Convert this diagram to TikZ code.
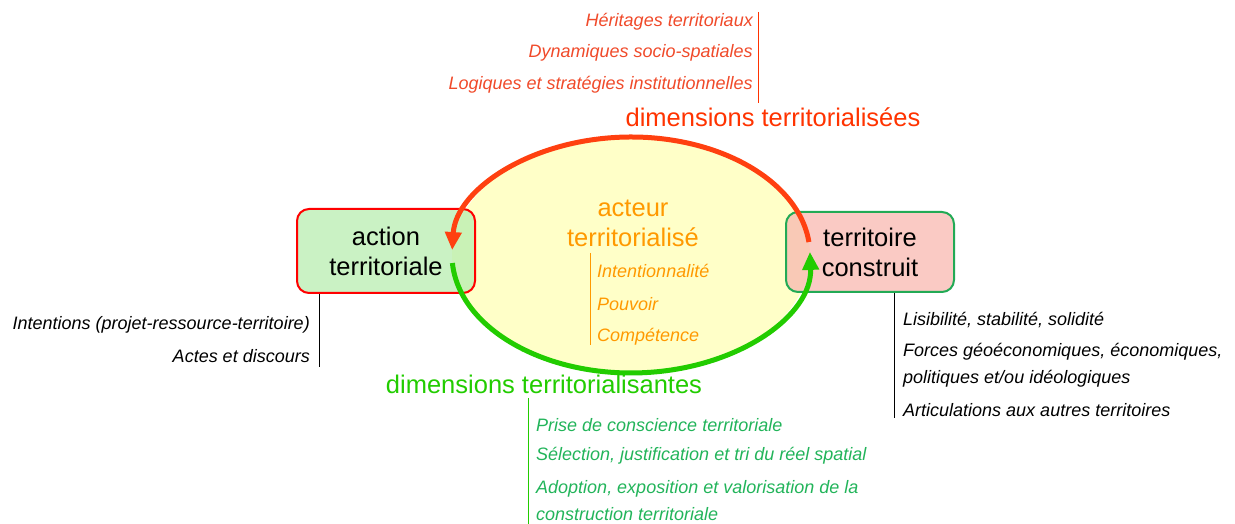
\documentclass[tikz,border=0pt]{standalone}
\usepackage{fontspec}
\setmainfont{Liberation Sans}
\usetikzlibrary{arrows.meta,shapes.geometric}
\definecolor{redT}{HTML}{FF3300}
\definecolor{redI}{HTML}{F04A2A}
\definecolor{orgT}{HTML}{FF9900}
\definecolor{grnT}{HTML}{22CC00}
\definecolor{grnI}{HTML}{22B45A}
\definecolor{grnB}{HTML}{22AA55}
\definecolor{yel}{HTML}{FFFFC8}
\definecolor{boxG}{HTML}{B8EEB0}
\definecolor{boxR}{HTML}{F8B8B0}
\definecolor{arcR}{HTML}{FF4010}
\definecolor{arcG}{HTML}{22CC00}
\begin{document}
\begin{tikzpicture}[x=1pt,y=1pt,
  big/.style={font=\fontsize{25.5}{30}\selectfont, inner sep=0pt},
  itm/.style={font=\fontsize{18}{20}\selectfont\itshape, inner sep=0pt},
  boxst/.style={rounded corners=12pt, line width=2pt, fill opacity=0.75, text opacity=1},
  arcst/.style={line width=5pt, -{Triangle[length=18pt,width=16pt]}}]
\useasboundingbox (0,0) rectangle (1235,524);
% ellipse
\node[draw=none, fill=yel, ellipse, minimum width=358pt, minimum height=236pt, inner sep=0pt] (ell) at (631,269) {};
% boxes
\node[boxst, draw=red, fill=boxG, minimum width=178pt, minimum height=84pt, align=center, big] (act) at (386,273) {action\\territoriale};
\node[boxst, draw=grnB, fill=boxR, minimum width=168pt, minimum height=80pt, align=center, big] (ter) at (870,272) {territoire\\construit};
% arcs
\draw[arcst, draw=arcR] (631,269) ++(6.3:179 and 118) arc[start angle=6.3, end angle=177.6, x radius=179, y radius=118];
\draw[arcst, draw=arcG] (631,269) ++(183.9:179 and 118) arc[start angle=183.9, end angle=361.5, x radius=179, y radius=118];
% acteur
\node[big, text=orgT, align=center] (acteur) at (633,301) {acteur\\territorialisé};
\coordinate (oT) at (590,271); \coordinate (oB) at (590,179);
\draw[orgT, line width=1pt] (oT) -- (oB);
\node[itm, text=orgT, anchor=west] (o1) at (597,253) {Intentionnalité};
\node[itm, text=orgT, anchor=west] (o2) at (597,220) {Pouvoir};
\node[itm, text=orgT, anchor=west] (o3) at (597,187) {Compétence};
% top
\node[big, text=redT] (dtop) at (773,407) {dimensions territorialisées};
\coordinate (rT) at (758,512); \coordinate (rB) at (758,421);
\draw[redT, line width=1pt] (rT) -- (rB);
\node[itm, text=redI, anchor=east] (r1) at (753,502) {Héritages territoriaux};
\node[itm, text=redI, anchor=east] (r2) at (753,471) {Dynamiques socio-spatiales};
\node[itm, text=redI, anchor=east] (r3) at (753,439) {Logiques et stratégies institutionnelles};
% left
\coordinate (lB) at (319,157);
\draw[black, line width=1pt] (act.south west -| lB) -- (lB);
\node[itm, anchor=east] (l1) at (310,199) {Intentions (projet-ressource-territoire)};
\node[itm, anchor=east] (l2) at (310,168) {Actes et discours};
% right
\coordinate (tB) at (894,106);
\draw[black, line width=1pt] (ter.south west -| tB) -- (tB);
\node[itm, anchor=west] (t1) at (903,204) {Lisibilité, stabilité, solidité};
\node[itm, anchor=west] (t2) at (903,172) {Forces géoéconomiques, économiques,};
\node[itm, anchor=west] (t3) at (903,145) {politiques et/ou idéologiques};
\node[itm, anchor=west] (t4) at (903,114) {Articulations aux autres territoires};
% bottom
\node[big, text=grnT] (dbot) at (544,140) {dimensions territorialisantes};
\coordinate (gT) at (528,126); \coordinate (gB) at (528,0);
\draw[grnT, line width=1pt] (gT) -- (gB);
\node[itm, text=grnI, anchor=west] (g1) at (536,99) {Prise de conscience territoriale};
\node[itm, text=grnI, anchor=west] (g2) at (536,68) {Sélection, justification et tri du réel spatial};
\node[itm, text=grnI, anchor=west] (g3) at (536,35) {Adoption, exposition et valorisation de la};
\node[itm, text=grnI, anchor=west] (g4) at (536,10) {construction territoriale};
\end{tikzpicture}
\end{document}
